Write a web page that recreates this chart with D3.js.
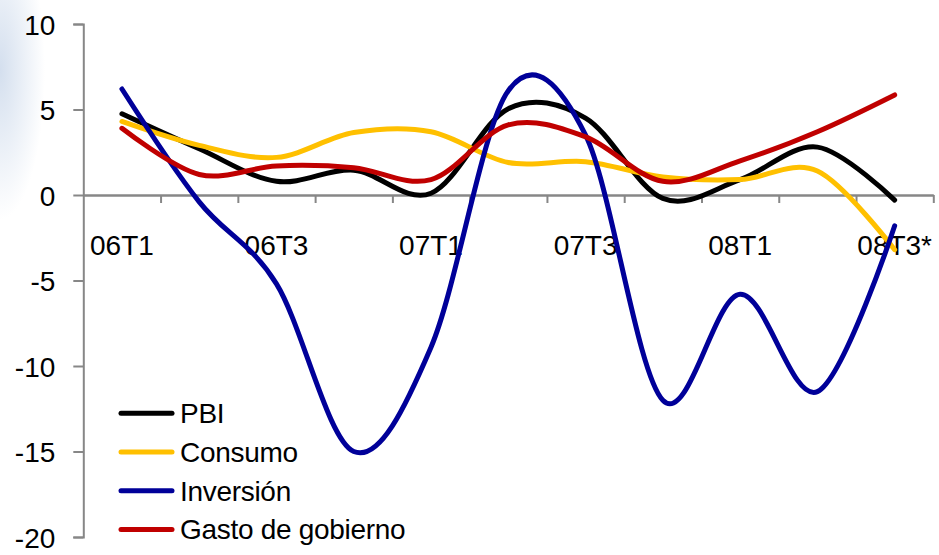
<!DOCTYPE html>
<html>
<head>
<meta charset="utf-8">
<script src="https://cdn.jsdelivr.net/npm/d3@7"></script>
<style>
  html, body { margin: 0; padding: 0; background: #fff; }
  svg { display: block; font-family: "Liberation Sans", Arial, sans-serif; }
</style>
</head>
<body>
<svg id="chart" width="939" height="555"></svg>
<script>
// ---- data ----
const categories = ["06T1","06T2","06T3","06T4","07T1","07T2","07T3","07T4","08T1","08T2","08T3*"];
const shownLabels = ["06T1","06T3","07T1","07T3","08T1","08T3*"];
const pbi      = [4.75, 2.7, 0.8, 1.45, 0.1, 5.05, 4.5, -0.2, 0.9, 2.8, -0.3];
const consumo  = [4.3, 2.9, 2.2, 3.65, 3.7, 1.9, 1.95, 1.05, 0.9, 1.4, -3.2];
const inversion= [6.2, -0.4, -5.2, -15.0, -8.9, 6.1, 3.5, -12.0, -5.8, -11.5, -1.8];
const gasto    = [3.9, 1.2, 1.7, 1.6, 0.9, 4.1, 3.4, 0.8, 2.0, 3.7, 5.85];
const seriesNames = ["PBI", "Consumo", "Inversión", "Gasto de gobierno"];
const seriesColors = ["#000000", "#FFC000", "#000099", "#C00000"];
const yTicks = [10, 5, 0, -5, -10, -15, -20];

const series = [pbi, consumo, inversion, gasto].map((v, i) => ({name: seriesNames[i], color: seriesColors[i], values: v}));

const svg = d3.select("#chart");

// faint background haze at top-left
const defs = svg.append("defs");
const rg = defs.append("radialGradient").attr("id", "haze").attr("cx", "0.5").attr("cy", "0.5").attr("r", "0.5");
rg.append("stop").attr("offset", "0%").attr("stop-color", "#c9d7ea").attr("stop-opacity", 0.8);
rg.append("stop").attr("offset", "100%").attr("stop-color", "#c9d7ea").attr("stop-opacity", 0);
svg.append("ellipse").attr("cx", 0).attr("cy", 70).attr("rx", 45).attr("ry", 150).attr("fill", "url(#haze)");

const x0 = 83.3, x1 = 933.3;
const x = d3.scaleBand().domain(categories).range([x0, x1]).paddingInner(0).paddingOuter(0);
const xEdges = d3.scaleLinear().domain([0, categories.length]).range([x0, x1]);
const y = d3.scaleLinear().domain([-20, 10]).range([537, 24]);

const axisColor = "#878787";

// y axis
const yAxis = svg.append("g").attr("transform", `translate(${x0},0)`)
  .call(d3.axisLeft(y).tickValues(yTicks).tickSize(10).tickPadding(18).tickFormat(d => String(d)));
yAxis.select(".domain").attr("stroke", axisColor).attr("stroke-width", 2);
yAxis.selectAll(".tick line").attr("stroke", axisColor).attr("stroke-width", 2);
yAxis.selectAll(".tick text").attr("font-size", 28).attr("fill", "#000")
  .attr("font-family", "'Liberation Sans', Arial, sans-serif").attr("dy", "0.36em");

// x axis: boundary ticks
const xAxisEdges = svg.append("g").attr("transform", `translate(0,${y(0)})`)
  .call(d3.axisBottom(xEdges).tickValues(d3.range(0, categories.length + 1)).tickSize(8).tickSizeOuter(0).tickFormat(""));
xAxisEdges.select(".domain").attr("stroke", axisColor).attr("stroke-width", 2.5);
xAxisEdges.selectAll(".tick line").attr("stroke", axisColor).attr("stroke-width", 2);
xAxisEdges.selectAll(".tick").filter(d => d === 0).remove();

// x axis labels
const xAxisLabels = svg.append("g").attr("transform", `translate(0,${y(0)})`)
  .call(d3.axisBottom(x).tickSize(0).tickFormat(d => shownLabels.includes(d) ? d : ""));
xAxisLabels.select(".domain").remove();
xAxisLabels.selectAll(".tick text").attr("font-size", 28).attr("fill", "#000")
  .attr("font-family", "'Liberation Sans', Arial, sans-serif")
  .attr("y", 60).attr("dy", 0);

// lines
const line = d3.line()
  .x((d, i) => x(categories[i]) + x.bandwidth() / 2)
  .y(d => y(d))
  .curve(d3.curveCardinal.tension(0));

svg.append("g").selectAll("path").data(series).join("path")
  .attr("d", s => line(s.values))
  .attr("fill", "none")
  .attr("stroke", s => s.color)
  .attr("stroke-width", 5)
  .attr("stroke-linecap", "round")
  .attr("stroke-linejoin", "round");

// legend
const legend = svg.append("g");
const legY0 = 413.3, legStep = 38.7;
const lg = legend.selectAll("g").data(series).join("g")
  .attr("transform", (d, i) => `translate(0,${legY0 + i * legStep})`);
lg.append("line").attr("x1", 121).attr("x2", 172).attr("y1", 0).attr("y2", 0)
  .attr("stroke", d => d.color).attr("stroke-width", 5).attr("stroke-linecap", "round");
lg.append("text").attr("x", 180).attr("y", 10).attr("font-size", 28).attr("fill", "#000")
  .attr("letter-spacing", -0.3)
  .text(d => d.name);
</script>
</body>
</html>
